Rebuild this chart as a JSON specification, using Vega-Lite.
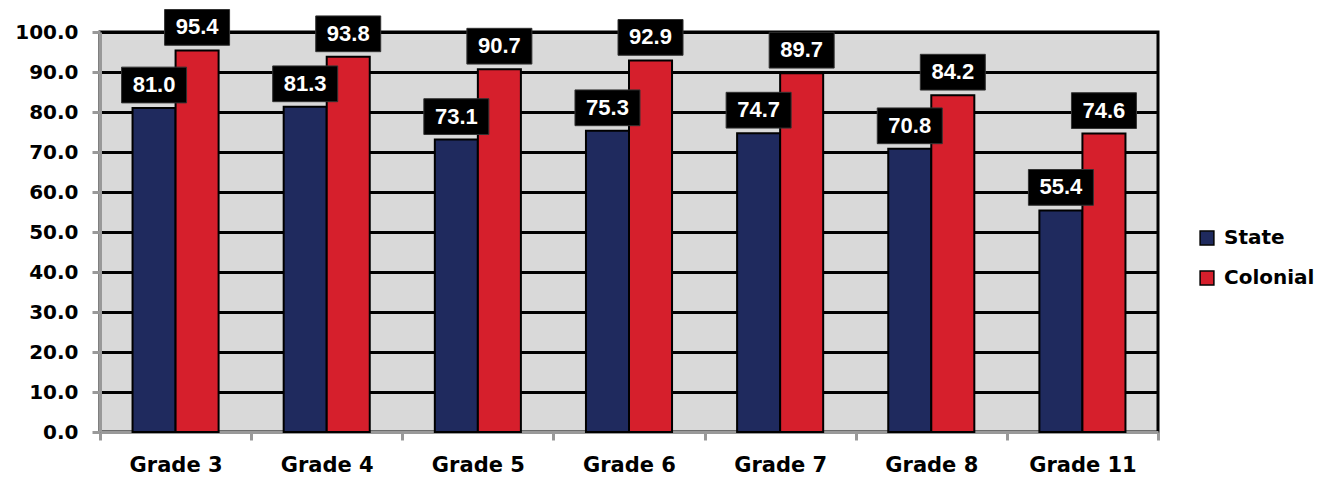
{
  "$schema": "https://vega.github.io/schema/vega-lite/v6.json",
  "width": 1058,
  "height": 400,
  "autosize": {"type": "none"},
  "padding": {"left": 100, "top": 32, "right": 177, "bottom": 48},
  "background": "white",
  "config": {
    "view": {"fill": "#d9d9d9", "stroke": "black", "strokeWidth": 3},
    "font": "DejaVu Sans"
  },
  "data": {
    "values": [
      {"grade": "Grade 3", "group": "State", "value": 81.0},
      {"grade": "Grade 3", "group": "Colonial", "value": 95.4},
      {"grade": "Grade 4", "group": "State", "value": 81.3},
      {"grade": "Grade 4", "group": "Colonial", "value": 93.8},
      {"grade": "Grade 5", "group": "State", "value": 73.1},
      {"grade": "Grade 5", "group": "Colonial", "value": 90.7},
      {"grade": "Grade 6", "group": "State", "value": 75.3},
      {"grade": "Grade 6", "group": "Colonial", "value": 92.9},
      {"grade": "Grade 7", "group": "State", "value": 74.7},
      {"grade": "Grade 7", "group": "Colonial", "value": 89.7},
      {"grade": "Grade 8", "group": "State", "value": 70.8},
      {"grade": "Grade 8", "group": "Colonial", "value": 84.2},
      {"grade": "Grade 11", "group": "State", "value": 55.4},
      {"grade": "Grade 11", "group": "Colonial", "value": 74.6}
    ]
  },
  "encoding": {
    "x": {
      "field": "grade", "type": "nominal", "sort": null,
      "scale": {"paddingInner": 0, "paddingOuter": 0},
      "axis": {
        "title": null, "labelAngle": 0, "domainColor": "#999999", "domainWidth": 3,
        "tickColor": "#999999", "tickWidth": 3, "tickSize": 8, "tickBand": "extent",
        "labelFont": "DejaVu Sans", "labelFontWeight": "bold", "labelFontSize": 21,
        "labelColor": "black", "labelPadding": 14
      }
    },
    "xOffset": {
      "field": "group", "type": "nominal", "sort": ["State", "Colonial"],
      "scale": {"paddingInner": 0, "paddingOuter": 0.756}
    },
    "y": {
      "field": "value", "type": "quantitative",
      "scale": {"domain": [0, 100], "nice": false},
      "axis": {
        "title": null, "values": [0, 10, 20, 30, 40, 50, 60, 70, 80, 90, 100],
        "format": ".1f", "grid": true, "gridColor": "black", "gridWidth": 3, "gridOpacity": 1,
        "domainColor": "#999999", "domainWidth": 3, "tickColor": "#999999", "tickWidth": 3,
        "tickSize": 8, "labelFont": "DejaVu Sans", "labelFontWeight": "bold",
        "labelFontSize": 20, "labelColor": "black", "labelPadding": 14
      }
    }
  },
  "layer": [
    {
      "mark": {"type": "bar", "stroke": "black", "strokeWidth": 2},
      "encoding": {
        "color": {
          "field": "group", "type": "nominal",
          "scale": {"domain": ["State", "Colonial"], "range": ["#1f2a5e", "#d61f2c"]},
          "legend": {
            "title": null, "orient": "none", "legendX": 1097, "legendY": 196,
            "symbolType": "square", "symbolSize": 190, "symbolStrokeColor": "black",
            "symbolStrokeWidth": 1.5, "symbolOpacity": 1, "labelFont": "DejaVu Sans",
            "labelFontWeight": "bold", "labelFontSize": 20, "labelColor": "black",
            "rowPadding": 20, "labelOffset": 7
          }
        }
      }
    },
    {
      "mark": {
        "type": "point", "filled": true, "fill": "black", "stroke": "#333333",
        "strokeWidth": 1, "opacity": 1, "size": 4225, "yOffset": -23,
        "shape": "M-1,-0.55L1,-0.55L1,0.55L-1,0.55Z"
      }
    },
    {
      "mark": {
        "type": "text", "color": "white", "font": "Liberation Sans", "fontWeight": "bold",
        "fontSize": 22, "yOffset": -23, "baseline": "middle", "align": "center"
      },
      "encoding": {"text": {"field": "value", "type": "quantitative", "format": ".1f"}}
    }
  ]
}
